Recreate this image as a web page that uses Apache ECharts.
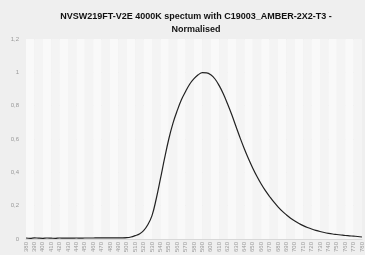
<!DOCTYPE html>
<html>
<head>
<meta charset="utf-8">
<script src="https://cdn.jsdelivr.net/npm/echarts@6/dist/echarts.min.js"></script>
<style>
  html, body { margin: 0; padding: 0; background: #efefef; }
  #chart { width: 365px; height: 255px; }
</style>
</head>
<body>
<div id="chart"></div>
<script>
// wavelength (nm), 5 nm steps
const wavelengths = [];
for (let w = 380; w <= 780; w += 5) wavelengths.push(w);

// normalised intensity
const intensity = [
  0.006, 0.004, 0.007, 0.005, 0.004, 0.006, 0.005, 0.004, 0.006, 0.005,   // 380-425
  0.005, 0.005, 0.006, 0.005, 0.006, 0.006, 0.006, 0.007, 0.007, 0.007,   // 430-475
  0.007, 0.007, 0.007, 0.007, 0.008, 0.012, 0.02, 0.03, 0.05, 0.085,      // 480-525
  0.14, 0.24, 0.36, 0.485, 0.60, 0.695, 0.77, 0.835, 0.885, 0.93,         // 530-575
  0.962, 0.985, 0.998, 0.997, 0.985, 0.96, 0.92, 0.87, 0.81, 0.745,       // 580-625
  0.675, 0.605, 0.54, 0.48, 0.425, 0.375, 0.33, 0.29, 0.255, 0.222,       // 630-675
  0.193, 0.167, 0.145, 0.125, 0.108, 0.093, 0.08, 0.069, 0.06, 0.052,     // 680-725
  0.045, 0.039, 0.034, 0.03, 0.027, 0.024, 0.021, 0.019, 0.017, 0.015,    // 730-775
  0.012                                                                   // 780
];

const titleText = 'NVSW219FT-V2E 4000K spectum with C19003_AMBER-2X2-T3 -\nNormalised';

const chart = echarts.init(document.getElementById('chart'), null, { renderer: 'canvas' });

const option = {
  backgroundColor: '#efefef',
  animation: false,
  title: {
    text: titleText,
    left: 191,
    textAlign: 'center',
    top: 5,
    textStyle: {
      fontFamily: 'Liberation Sans',
      fontSize: 9,
      fontWeight: 'bold',
      color: '#111',
      lineHeight: 13
    }
  },
  grid: { left: 26, right: 1, top: 39, bottom: 13.3, containLabel: false },
  xAxis: {
    type: 'value',
    min: 380,
    max: 780,
    interval: 10,
    axisLine: { show: true, lineStyle: { color: '#d8d8d8' } },
    axisTick: { show: false },
    axisLabel: {
      rotate: 90,
      fontSize: 6,
      color: '#999',
      margin: 3,
      fontFamily: 'Liberation Sans',
      showMaxLabel: true
    },
    splitLine: { show: false },
    splitArea: { show: true, areaStyle: { color: ['#f9f9f9', '#f4f4f4'] } }
  },
  yAxis: {
    type: 'value',
    min: 0,
    max: 1.2,
    interval: 0.2,
    axisLine: { show: false },
    axisTick: { show: false },
    axisLabel: {
      fontSize: 6,
      color: '#999',
      margin: 7,
      fontFamily: 'Liberation Sans',
      formatter: v => String(Math.round(v * 10) / 10).replace('.', ',')
    },
    splitLine: { show: true, lineStyle: { color: '#e2e2e2', type: 'dashed', width: 1 } }
  },
  series: [{
    type: 'line',
    data: wavelengths.map((w, i) => [w, intensity[i]]),
    smooth: 0.4,
    showSymbol: false,
    lineStyle: { color: '#222', width: 1.2 }
  }]
};

chart.setOption(option);
</script>
</body>
</html>
